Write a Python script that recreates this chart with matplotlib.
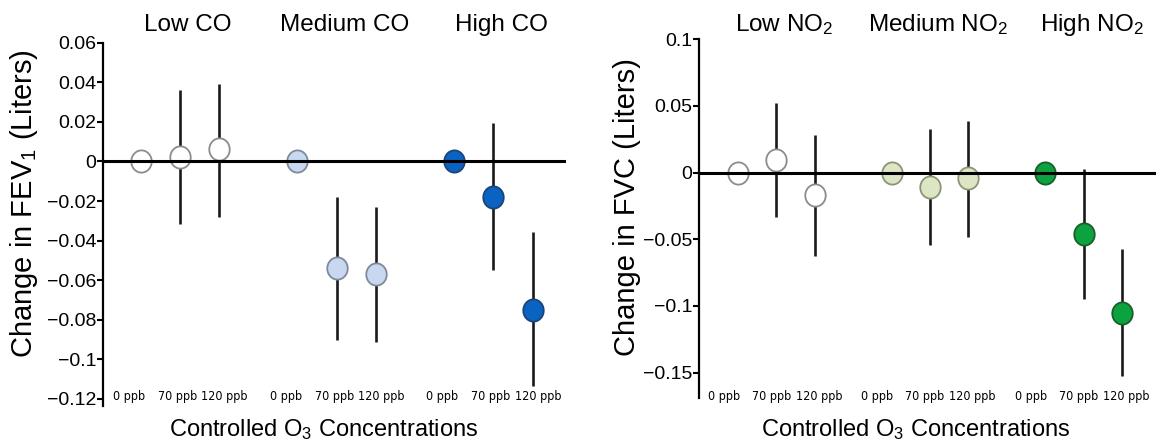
import numpy as np
import matplotlib
matplotlib.use("Agg")
import matplotlib.pyplot as plt
from matplotlib.path import Path
from matplotlib.transforms import blended_transform_factory

plt.rcParams["font.family"] = ["Liberation Sans", "DejaVu Sans"]
plt.rcParams["mathtext.default"] = "regular"

nan = np.nan
conc_labels = ["0 ppb", "70 ppb", "120 ppb"]

co_groups = ["Low CO", "Medium CO", "High CO"]
fev1_mean = [0, 0.0025, 0.0064, 0, -0.054, -0.057, 0, -0.018, -0.075]
fev1_lo = [nan, -0.0316, -0.028, nan, -0.090, -0.091, nan, -0.055, -0.1136]
fev1_hi = [nan, 0.036, 0.039, nan, -0.018, -0.0228, nan, 0.0194, -0.0358]

no2_groups = ["Low NO$_2$", "Medium NO$_2$", "High NO$_2$"]
fvc_mean = [0, 0.0095, -0.0168, 0, -0.0105, -0.004, 0, -0.046, -0.105]
fvc_lo = [nan, -0.0335, -0.0625, nan, -0.054, -0.0485, nan, -0.095, -0.1525]
fvc_hi = [nan, 0.052, 0.028, nan, 0.033, 0.039, nan, 0.0025, -0.057]

fev1_ticks = [0.06, 0.04, 0.02, 0, -0.02, -0.04, -0.06, -0.08, -0.1, -0.12]
fvc_ticks = [0.1, 0.05, 0, -0.05, -0.1, -0.15]

# face / edge colours per exposure group
co_face = ["white", "#c7d8f0", "#0a63c0"]
co_edge = ["#8c8c8c", "#7f8a99", "#1d4478"]
no2_face = ["white", "#dde6c4", "#0ba23f"]
no2_edge = ["#8c8c8c", "#8c9478", "#1b5e2a"]

# slightly tall ellipse marker
t = np.linspace(0, 2 * np.pi, 60)
ellipse = Path(np.column_stack([0.92 * np.cos(t), np.sin(t)]), closed=True)


def fmt(v):
    s = f"{v:g}"
    return s.replace("-", "\u2212")


def panel(fig, rect, xlim, ylim, groups, mean, lo, hi, faces, edges, ticks,
          ylabel, ylabel_xy, xlabel_x, lab_off):
    ax = fig.add_axes(rect)
    x = np.array([g * 4 + j for g in range(3) for j in range(3)], dtype=float)
    mean = np.array(mean); lo = np.array(lo); hi = np.array(hi)
    ok = ~np.isnan(lo)
    ax.vlines(x[ok], lo[ok], hi[ok], color="#1a1a1a", lw=1.9, zorder=2)
    for i in range(9):
        g = i // 3
        ax.plot(x[i], mean[i], marker=ellipse, ls="none", ms=16,
                mfc=faces[g], mec=edges[g], mew=1.3, zorder=3)
    ax.axhline(0, color="black", lw=2.2, zorder=4)
    ax.set_xlim(*xlim)
    ax.set_ylim(*ylim)
    for s in ["top", "right", "bottom"]:
        ax.spines[s].set_visible(False)
    ax.spines["left"].set_linewidth(1.6)
    ax.set_xticks([])
    ax.set_yticks(ticks)
    ax.set_yticklabels([fmt(t) for t in ticks])
    ax.tick_params(axis="y", labelsize=14, length=4, width=1.5, pad=1)

    tr = blended_transform_factory(ax.transData, fig.transFigure)
    for i in range(9):
        ax.text(x[i] + lab_off[i % 3], 1 - 396 / 444, conc_labels[i % 3],
                transform=tr, ha="center", va="center", fontsize=9,
                family="DejaVu Sans", fontstretch="condensed")
    for g in range(3):
        ax.text(g * 4 + 1.2, 1 - 25 / 444, groups[g], transform=tr,
                ha="center", va="center", fontsize=17.5)
    fig.text(ylabel_xy[0], ylabel_xy[1], ylabel, rotation=90, ha="center",
             va="center", fontsize=21)
    fig.text(xlabel_x, 1 - 430 / 444, "Controlled O$_3$ Concentrations",
             ha="center", va="center", fontsize=17)
    return ax


fig = plt.figure(figsize=(11.66, 4.44), dpi=100)

panel(fig, [103 / 1166, 1 - 405.7 / 444, 463 / 1166, 363 / 444],
      (-0.96, 10.85), (-0.1234, 0.06), co_groups, fev1_mean, fev1_lo, fev1_hi,
      co_face, co_edge, fev1_ticks, "Change in FEV$_1$ (Liters)",
      (24 / 1166, 1 - 204 / 444), 324 / 1166, [-0.3, -0.06, 0.14])

panel(fig, [699 / 1166, 1 - 398 / 444, 457 / 1166, 358.7 / 444],
      (-1.01, 10.88), (-0.169, 0.1), no2_groups, fvc_mean, fvc_lo, fvc_hi,
      no2_face, no2_edge, fvc_ticks, "Change in FVC (Liters)",
      (627 / 1166, 1 - 207 / 444), 916 / 1166, [-0.37, -0.13, 0.11])

fig.savefig("out.png", dpi=100)
